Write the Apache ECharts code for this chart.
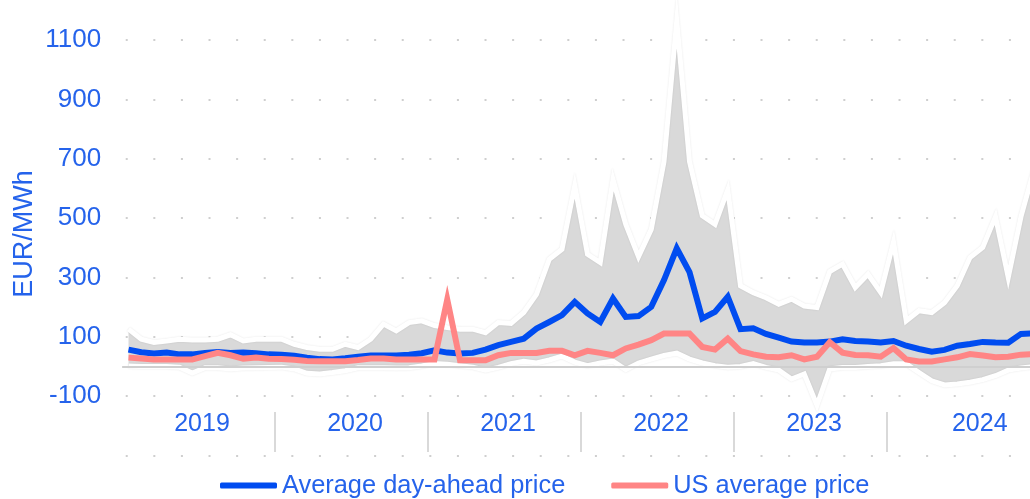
<!DOCTYPE html>
<html>
<head>
<meta charset="utf-8">
<script src="https://cdn.jsdelivr.net/npm/echarts@6/dist/echarts.min.js"></script>
<style>
html,body{margin:0;padding:0;background:#fff;overflow:hidden}
#chart{width:1030px;height:499px}
</style>
</head>
<body>
<div id="chart"></div>
<script>
// ---- data (monthly, Jan 2019 - Dec 2024) ----
const years = ['2019', '2020', '2021', '2022', '2023', '2024'];
const monthCodes = ['01','02','03','04','05','06','07','08','09','10','11','12'];
const categories = years.flatMap(y => monthCodes.map(m => y + '-' + m));

const avgDayAhead = [
  57, 48, 44, 47, 41, 41, 46, 49, 46, 47, 45, 41,
  40, 36, 30, 25, 24, 28, 33, 37, 37, 37, 40, 45,
  55, 47, 44, 46, 57, 72, 83, 94, 128, 150, 173, 218,
  179, 150, 229, 167, 170, 201, 291, 398, 318, 162, 184, 235,
  126, 129, 110, 97, 84, 81, 81, 84, 92, 86, 84, 81,
  86, 70, 59, 50, 56, 70, 76, 83, 81, 80, 110, 112
];
const usAverage = [
  30, 27, 24, 24, 24, 24, 35, 46, 38, 26, 30, 26,
  25, 23, 19, 18, 18, 18, 22, 27, 27, 24, 24, 24,
  24, 226, 21, 21, 21, 38, 46, 46, 46, 53, 53, 38,
  53, 46, 38, 61, 74, 89, 111, 111, 111, 66, 57, 94,
  52, 41, 33, 31, 38, 24, 33, 82, 47, 39, 38, 33,
  62, 24, 17, 17, 24, 31, 42, 37, 31, 33, 40, 42
];
const rangeMax = [
  126, 92, 81, 86, 92, 89, 89, 92, 107, 86, 92, 92,
  92, 75, 64, 58, 58, 75, 64, 92, 143, 120, 148, 154,
  138, 131, 126, 126, 114, 148, 145, 182, 243, 361, 395, 610,
  378, 350, 630, 479, 370, 462, 690, 1165, 690, 508, 479, 595,
  272, 249, 232, 210, 227, 204, 199, 320, 345, 266, 311, 249,
  420, 154, 188, 182, 215, 272, 367, 401, 505, 300, 505, 660
];
const rangeMin = [
  2, 0, 0, 0, -2, -22, -4, -4, -8, -5, -4, -3,
  -2, -8, -23, -25, -20, -14, -4, -4, -4, -5, -4, 2,
  10, 8, 3, -2, -12, -3, 10, 18, 12, 22, 35, 15,
  3, 12, 18, -10, 12, 25, 37, 45, 25, 12, 3, -2,
  0, 10, -3, -12, -42, -25, -130, -8, -3, -3, 0, 3,
  9, 9, -20, -48, -62, -59, -53, -44, -31, -12, -5, 0
];
const seriesNames = ['Average day-ahead price', 'US average price'];
const axisTitle = 'EUR/MWh';
const yearLabelIdx = [6, 18, 30, 42, 54, 67];

// ---- styling ----
const TXT = '#2563eb';
const BLUE = '#004cf0';
const PINK = '#ff8585';
const GREY = '#d9d9d9';
const FONT = 'Liberation Sans, Arial, sans-serif';
const bandEdge = {color: '#ffffff', width: 5, join: 'miter', miterLimit: 20,
                  shadowColor: 'rgba(0,0,0,0.10)', shadowBlur: 2};

const chart = echarts.init(document.getElementById('chart'), null, {renderer: 'canvas'});
const rangeSpan = rangeMax.map((v, i) => v - rangeMin[i]);

const option = {
  animation: false,
  backgroundColor: '#ffffff',
  textStyle: {fontFamily: FONT},
  grid: {left: 122.125, right: -10.125, top: -19.4, bottom: 43.4, containLabel: false, outerBoundsMode: 'none'},
  legend: {
    data: seriesNames,
    left: 220, top: 473, padding: 0,
    itemWidth: 57, itemHeight: 6, itemGap: 46,
    icon: 'roundRect',
    selectedMode: false,
    textStyle: {color: TXT, fontSize: 25.4, fontFamily: FONT}
  },
  graphic: [{
    type: 'text', x: 25, y: 234, rotation: Math.PI / 2,
    style: {text: axisTitle, fill: TXT, fontSize: 27, fontFamily: FONT, align: 'center', verticalAlign: 'middle'}
  }],
  xAxis: {
    type: 'category', data: categories, boundaryGap: true, position: 'bottom', offset: -43.6,
    axisLine: {show: false, onZero: false},
    axisTick: {show: true, interval: (i) => i > 0 && i % 12 === 0, length: 40, lineStyle: {color: GREY, width: 2}},
    axisLabel: {
      interval: (i) => yearLabelIdx.indexOf(i) >= 0,
      formatter: (v) => v.slice(0, 4),
      color: TXT, fontSize: 25, fontFamily: FONT, margin: 0, padding: [0, 6, 0, 0]
    },
    splitLine: {show: false}
  },
  yAxis: {
    type: 'value', min: -300, max: 1300, interval: 200,
    axisLine: {show: false}, axisTick: {show: false},
    axisLabel: {formatter: (v) => (v < -100 || v > 1100) ? '' : String(v), color: TXT, fontSize: 26, fontFamily: FONT, margin: 21},
    splitLine: {show: true, lineStyle: {color: '#cfcfcf', width: 2, type: [2, 25.6], dashOffset: 24}}
  },
  series: [
    {
      name: 'min', type: 'line', stack: 'band', stackStrategy: 'all', data: rangeMin,
      symbol: 'none', silent: true, z: 3,
      lineStyle: bandEdge
    },
    {
      name: 'range', type: 'line', stack: 'band', stackStrategy: 'all', data: rangeSpan,
      symbol: 'none', silent: true, z: 2,
      lineStyle: bandEdge,
      areaStyle: {color: GREY, opacity: 1},
      markLine: {
        silent: true, symbol: ['none', 'none'], label: {show: false},
        lineStyle: {color: '#cfcfcf', width: 2, type: 'solid'},
        data: [{yAxis: 0}]
      }
    },
    {
      name: seriesNames[0], type: 'line', data: avgDayAhead, symbol: 'none', z: 4,
      lineStyle: {color: BLUE, width: 6, join: 'miter'}, itemStyle: {color: BLUE}
    },
    {
      name: seriesNames[1], type: 'line', data: usAverage, symbol: 'none', z: 5,
      lineStyle: {color: PINK, width: 6, join: 'miter'}, itemStyle: {color: PINK}
    }
  ]
};
chart.setOption(option);
</script>
</body>
</html>
